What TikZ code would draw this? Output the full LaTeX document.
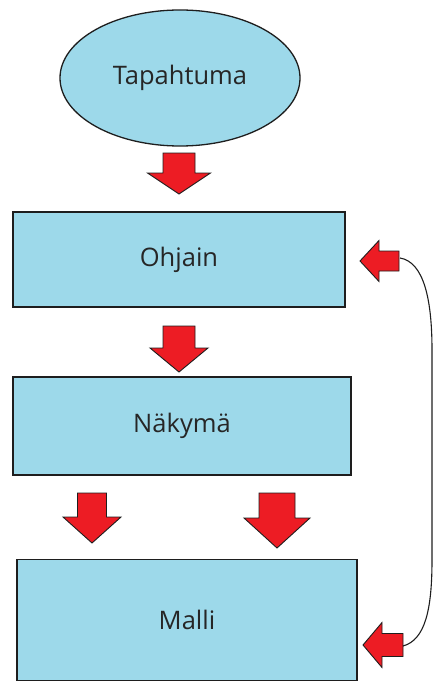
\documentclass[tikz,border=0pt]{standalone}
\usepackage{fontspec}
\setmainfont{Open Sans}
\usetikzlibrary{shapes.geometric}

\definecolor{boxfill}{RGB}{157,217,234}
\definecolor{arrowred}{RGB}{237,28,36}
\definecolor{edge}{RGB}{30,30,30}

\tikzset{
  stage/.style={draw=edge, line width=1.3pt, fill=boxfill, inner sep=0pt,
    font=\fontsize{25.5}{30}\selectfont, text=black!85},
  blockarrow/.style={draw=edge, line width=0.9pt, fill=arrowred, line join=miter},
  feedback/.style={draw=edge, line width=1.1pt}
}

% downward block arrow: centre x, top y, shaft half width, head half width, head start y, tip y
\newcommand\downblock[6]{%
  \draw[blockarrow] ({#1-#3},#2) -- ({#1+#3},#2) -- ({#1+#3},#5) -- ({#1+#4},#5)
    -- (#1,#6) -- ({#1-#4},#5) -- ({#1-#3},#5) -- cycle;}
% leftward block arrow: centre y, tip x, head end x, tail x, shaft half height, head half height
\newcommand\leftblock[6]{%
  \draw[blockarrow] (#2,#1) -- (#3,{#1-#6}) -- (#3,{#1-#5}) -- (#4,{#1-#5})
    -- (#4,{#1+#5}) -- (#3,{#1+#5}) -- (#3,{#1+#6}) -- cycle;}

\begin{document}
\begin{tikzpicture}[x=1pt,y=-1pt]
  \useasboundingbox (0,0) rectangle (434,682);

  \node[stage, ellipse, minimum width=240pt, minimum height=136pt] (event) at (180,78) {Tapahtuma};
  \node[stage, rectangle, minimum width=332pt, minimum height=95pt] (ctrl) at (179,259.5) {Ohjain};
  \node[stage, rectangle, minimum width=338pt, minimum height=98pt] (view) at (182,426) {Näkymä};
  \node[stage, rectangle, minimum width=340pt, minimum height=121pt] (model) at (187,620) {Malli};

  % flow arrows between the stages
  \downblock{179}{153}{16}{31.5}{173}{194}
  \downblock{179}{326}{16}{29}{348}{372}
  \downblock{92}{493}{14.5}{29}{517}{543}
  \downblock{277}{493}{18}{33}{518}{548}

  % feedback from the model back to the controller
  \leftblock{261}{360}{379}{399}{10}{20.5}
  \leftblock{645}{363}{382}{403}{11.5}{22.5}
  \coordinate (fbtop) at (400,258);
  \coordinate (fbbottom) at (403,646);
  \draw[feedback] (fbtop) .. controls (424,262) and (432,300) .. (432,350)
    -- (432,560) .. controls (432,610) and (425,640) .. (fbbottom);
\end{tikzpicture}
\end{document}
